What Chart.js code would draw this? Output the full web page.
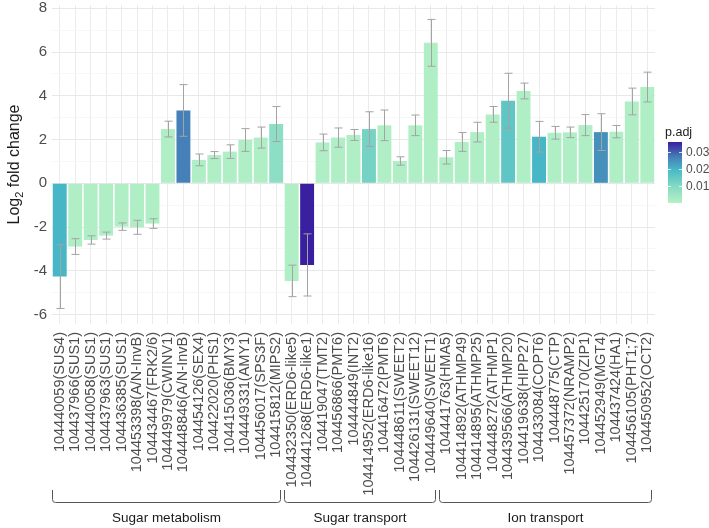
<!DOCTYPE html>
<html>
<head>
<meta charset="utf-8">
<script src="https://cdn.jsdelivr.net/npm/chart.js@4.4.1/dist/chart.umd.min.js"></script>
<style>
  html, body { margin: 0; padding: 0; background: #fff; }
</style>
</head>
<body>
<canvas id="fc-chart" width="709" height="528"></canvas>
<script>
// gene labels, left to right
const genes = [
    '104440059(SUS4)', '104437966(SUS1)', '104440058(SUS1)', '104437963(SUS1)', '104436385(SUS1)',
    '104453398(A/N-InvB)', '104434467(FRK2/6)', '104449979(CWINV1)', '104448846(A/N-InvB)', '104454126(SEX4)',
    '104422020(PHS1)', '104415036(BMY3)', '104449331(AMY1)', '104456017(SPS3F)', '104415812(MIPS2)',
    '104432350(ERD6-like5)', '104441268(ERD6-like1)', '104419047(TMT2)', '104456866(PMT6)', '104444849(INT2)',
    '104414952(ERD6-like16)', '104416472(PMT6)', '104448611(SWEET2)', '104426131(SWEET12)', '104449640(SWEET1)',
    '104441763(HMA5)', '104414892(ATHMP49)', '104414895(ATHMP25)', '104448272(ATHMP1)', '104439566(ATHMP20)',
    '104419638(HIPP27)', '104433084(COPT6)', '104448775(CTP)', '104457372(NRAMP2)', '104425170(ZIP1)',
    '104452949(MGT4)', '104437424(HA1)', '104456105(PHT1;7)', '104450952(OCT2)'
];

const log2fc = [
    -4.26, -2.89, -2.59, -2.39, -1.98, -2.01, -1.84, 2.48, 3.33, 1.07,
    1.29, 1.45, 1.98, 2.09, 2.71,
    -4.46, -3.73, 1.87, 2.09, 2.21, 2.48, 2.65, 1.02, 2.65, 6.42,
    1.19, 1.89, 2.34, 3.15, 3.77, 4.22, 2.13, 2.31, 2.33, 2.66,
    2.34, 2.36, 3.74, 4.40
];

// error bar half widths
const fcErr = [
    1.46, 0.36, 0.19, 0.16, 0.17, 0.32, 0.22, 0.36, 1.18, 0.27,
    0.16, 0.31, 0.52, 0.48, 0.80,
    0.72, 1.42, 0.38, 0.44, 0.25, 0.79, 0.70, 0.19, 0.47, 1.07,
    0.31, 0.43, 0.45, 0.36, 1.26, 0.36, 0.70, 0.29, 0.24, 0.48,
    0.84, 0.28, 0.61, 0.68
];

const pAdj = [
    0.020, 0.001, 0.001, 0.001, 0.001, 0.001, 0.001, 0.001, 0.027, 0.001,
    0.001, 0.001, 0.001, 0.001, 0.008,
    0.001, 0.036, 0.001, 0.001, 0.001, 0.012, 0.001, 0.001, 0.001, 0.001,
    0.001, 0.001, 0.001, 0.001, 0.016, 0.001, 0.020, 0.001, 0.001, 0.001,
    0.025, 0.001, 0.001, 0.001
];

const groupNames = ['Sugar metabolism', 'Sugar transport', 'Ion transport'];
const groupSizes = [15, 10, 14];

const legendTicks = [0.01, 0.02, 0.03];
const pMax = 0.036;

const FONT = '"Liberation Sans", Arial, Helvetica, sans-serif';

// p.adj colour scale
const colorStops = [
    [0, '#b5f1c6'],
    [0.01, '#82dac3'],
    [0.02, '#47b7c7'],
    [0.027, '#4580b8'],
    [0.036, '#3a1fa0']
];

function hexToRgb(hex) {
    const n = parseInt(hex.slice(1), 16);
    return [(n >> 16) & 255, (n >> 8) & 255, n & 255];
}

function pColor(p) {
    for (let i = 1; i < colorStops.length; i++) {
        const [p0, c0] = colorStops[i - 1];
        const [p1, c1] = colorStops[i];
        if (p <= p1) {
            const t = Math.max(0, (p - p0) / (p1 - p0));
            const a = hexToRgb(c0), b = hexToRgb(c1);
            const rgb = a.map((v, k) => Math.round(v + (b[k] - v) * t));
            return `rgb(${rgb.join(',')})`;
        }
    }
    return colorStops[colorStops.length - 1][1];
}

const errorBars = {
    id: 'errorBars',
    afterDatasetsDraw(chart) {
        const { ctx } = chart;
        const x = chart.scales.x, y = chart.scales.y;
        ctx.save();
        ctx.strokeStyle = '#a3a3a3';
        ctx.lineWidth = 1;
        log2fc.forEach((v, i) => {
            const px = Math.round(x.getPixelForValue(i)) + 0.5;
            const hi = y.getPixelForValue(v + fcErr[i]);
            const lo = y.getPixelForValue(v - fcErr[i]);
            ctx.beginPath();
            ctx.moveTo(px, hi);
            ctx.lineTo(px, lo);
            ctx.moveTo(px - 4, hi);
            ctx.lineTo(px + 4, hi);
            ctx.moveTo(px - 4, lo);
            ctx.lineTo(px + 4, lo);
            ctx.stroke();
        });
        ctx.restore();
    }
};

const groupBrackets = {
    id: 'groupBrackets',
    afterDraw(chart) {
        const { ctx } = chart;
        const x = chart.scales.x;
        const pitch = x.getPixelForValue(1) - x.getPixelForValue(0);
        const top = 490, base = 502.5, r = 3;
        let start = 0;
        ctx.save();
        ctx.strokeStyle = '#555555';
        ctx.lineWidth = 1;
        ctx.fillStyle = '#1a1a1a';
        ctx.font = `13.5px ${FONT}`;
        ctx.textAlign = 'center';
        ctx.textBaseline = 'middle';
        groupNames.forEach((name, g) => {
            const end = start + groupSizes[g] - 1;
            const left = Math.round(x.getPixelForValue(start) - pitch / 2) + 0.5;
            const right = Math.round(x.getPixelForValue(end) + pitch / 2 - 4) + 0.5;
            ctx.beginPath();
            ctx.moveTo(left, top);
            ctx.lineTo(left, base - r);
            ctx.quadraticCurveTo(left, base, left + r, base);
            ctx.lineTo(right - r, base);
            ctx.quadraticCurveTo(right, base, right, base - r);
            ctx.lineTo(right, top);
            ctx.stroke();
            ctx.fillText(name, (left + right) / 2, 518);
            start = end + 1;
        });
        ctx.restore();
    }
};

const pColorBar = {
    id: 'pColorBar',
    afterDraw(chart) {
        const { ctx } = chart;
        const left = chart.chartArea.right + 13, width = 14;
        const top = 142, bottom = 203;
        const toY = p => bottom - (p / pMax) * (bottom - top);
        const grad = ctx.createLinearGradient(0, bottom, 0, top);
        colorStops.forEach(([p, c]) => grad.addColorStop(Math.min(1, p / pMax), c));
        ctx.save();
        ctx.fillStyle = grad;
        ctx.fillRect(left, top, width, bottom - top);

        ctx.strokeStyle = 'rgba(255,255,255,0.8)';
        ctx.lineWidth = 1;
        ctx.font = `12px ${FONT}`;
        ctx.fillStyle = '#4d4d4d';
        ctx.textAlign = 'left';
        ctx.textBaseline = 'middle';
        legendTicks.forEach(t => {
            const ty = Math.round(toY(t)) + 0.5;
            ctx.beginPath();
            ctx.moveTo(left, ty);
            ctx.lineTo(left + 3, ty);
            ctx.moveTo(left + width - 3, ty);
            ctx.lineTo(left + width, ty);
            ctx.stroke();
            ctx.fillText(t.toFixed(2), left + width + 4, ty);
        });

        ctx.fillStyle = '#1a1a1a';
        ctx.font = `12.5px ${FONT}`;
        ctx.fillText('p.adj', left - 3, 133);
        ctx.restore();
    }
};

const yTitle = {
    id: 'yTitle',
    afterDraw(chart) {
        const { ctx, chartArea } = chart;
        const big = `16px ${FONT}`, small = `11px ${FONT}`;
        ctx.save();
        ctx.translate(14, (chartArea.top + chartArea.bottom) / 2);
        ctx.rotate(-Math.PI / 2);
        ctx.fillStyle = '#1a1a1a';
        ctx.textAlign = 'left';
        ctx.textBaseline = 'alphabetic';
        ctx.font = big;
        const w1 = ctx.measureText('Log').width;
        const w3 = ctx.measureText(' fold change').width;
        ctx.font = small;
        const w2 = ctx.measureText('2').width;
        let u = -(w1 + w2 + w3) / 2;
        ctx.font = big;
        ctx.fillText('Log', u, 5);
        u += w1;
        ctx.font = small;
        ctx.fillText('2', u, 8.5);
        u += w2;
        ctx.font = big;
        ctx.fillText(' fold change', u, 5);
        ctx.restore();
    }
};

function initFoldChart() {
    const ctx = document.getElementById('fc-chart').getContext('2d');

    new Chart(ctx, {
        type: 'bar',
        data: {
            labels: genes,
            datasets: [{
                data: log2fc,
                backgroundColor: pAdj.map(pColor),
                borderWidth: 0,
                categoryPercentage: 1,
                barPercentage: 0.9
            }]
        },
        options: {
            responsive: false,
            animation: false,
            layout: { padding: { top: 5, right: 54, bottom: 0, left: 0 } },
            scales: {
                x: {
                    border: { display: false },
                    grid: { offset: false, color: '#ebebeb', lineWidth: 1, drawTicks: false },
                    ticks: {
                        autoSkip: false,
                        minRotation: 90,
                        maxRotation: 90,
                        padding: 8,
                        color: '#4d4d4d',
                        font: { family: FONT, size: 14.5 }
                    },
                    afterFit(scale) {
                        scale.height = 204;
                        scale.paddingLeft = 0;
                        scale.paddingRight = 0;
                    }
                },
                y: {
                    min: -6.43,
                    max: 8.15,
                    border: { display: false },
                    grid: {
                        drawTicks: false,
                        color: c => (c.tick && Math.abs(c.tick.value % 2) === 1) ? '#f3f3f3' : '#e8e8e8',
                        lineWidth: c => (c.tick && Math.abs(c.tick.value % 2) === 1) ? 0.7 : 1
                    },
                    ticks: {
                        stepSize: 1,
                        includeBounds: false,
                        padding: 5,
                        color: '#4d4d4d',
                        font: { family: FONT, size: 15 },
                        callback: v => (v % 2 === 0 ? String(v) : '')
                    },
                    afterFit(scale) {
                        scale.width = 52;
                        scale.paddingTop = 0;
                        scale.paddingBottom = 0;
                    }
                }
            },
            plugins: {
                legend: { display: false },
                tooltip: { enabled: false }
            }
        },
        plugins: [errorBars, groupBrackets, pColorBar, yTitle]
    });
}

initFoldChart();
</script>
</body>
</html>
